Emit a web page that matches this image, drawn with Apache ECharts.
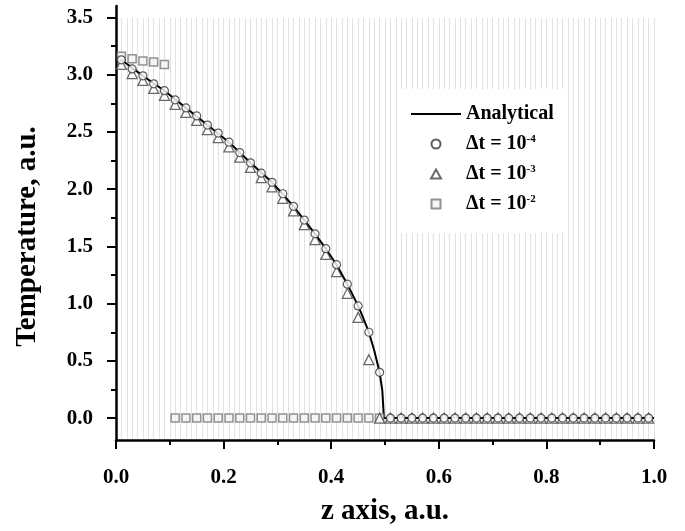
<!DOCTYPE html>
<html>
<head>
<meta charset="utf-8">
<script src="https://cdn.jsdelivr.net/npm/echarts@6/dist/echarts.min.js"></script>
<style>html,body{margin:0;padding:0;background:#fff}#c{width:685px;height:531px}</style>
</head>
<body>
<div id="c"></div>
<script>
// ---- data ----
const zMarkers = [0.01,0.03,0.05,0.07,0.09,0.11,0.13,0.15,0.17,0.19,0.21,0.23,0.25,0.27,0.29,0.31,0.33,0.35,0.37,0.39,0.41,0.43,0.45,0.47,0.49,
                  0.51,0.53,0.55,0.57,0.59,0.61,0.63,0.65,0.67,0.69,0.71,0.73,0.75,0.77,0.79,0.81,0.83,0.85,0.87,0.89,0.91,0.93,0.95,0.97,0.99];
const tDt4 = [3.13,3.05,2.99,2.92,2.86,2.78,2.71,2.64,2.56,2.49,2.41,2.32,2.23,2.14,2.06,1.96,1.85,1.73,1.61,1.48,1.34,1.17,0.98,0.75,0.40,
              0,0,0,0,0,0,0,0,0,0,0,0,0,0,0,0,0,0,0,0,0,0,0,0,0];
const tDt3 = [3.09,3.01,2.95,2.88,2.82,2.74,2.67,2.60,2.52,2.45,2.37,2.28,2.19,2.10,2.02,1.92,1.81,1.69,1.56,1.43,1.28,1.09,0.88,0.51,0,
              0,0,0,0,0,0,0,0,0,0,0,0,0,0,0,0,0,0,0,0,0,0,0,0,0];
const zDt2 = [0.01,0.03,0.05,0.07,0.09,0.11,0.13,0.15,0.17,0.19,0.21,0.23,0.25,0.27,0.29,0.31,0.33,0.35,0.37,0.39,0.41,0.43,0.45,0.47,0.49];
const tDt2 = [3.16,3.14,3.12,3.11,3.09,0,0,0,0,0,0,0,0,0,0,0,0,0,0,0,0,0,0,0,0];
const zLine = [0,0.01,0.05,0.09,0.13,0.17,0.21,0.25,0.29,0.33,0.37,0.39,0.41,0.43,0.45,0.46,0.47,0.48,0.49,0.495,0.498,1.0];
const tLine = [3.15,3.13,2.99,2.86,2.71,2.56,2.41,2.23,2.06,1.85,1.61,1.48,1.34,1.17,0.98,0.87,0.75,0.59,0.40,0.24,0,0];
const yMajorTicks = [0,0.5,1.0,1.5,2.0,2.5,3.0,3.5];
const yMinorTicks = [0.25,0.75,1.25,1.75,2.25,2.75,3.25];
const seriesNames = ['Analytical','Δt = 10^-4','Δt = 10^-3','Δt = 10^-2'];

const pair = (xs, ys) => xs.map((x, i) => [x, ys[i]]);
const FONT = '"Liberation Serif","Times New Roman",serif';

const chart = echarts.init(document.getElementById('c'), null, {renderer: 'canvas'});
chart.setOption({
  animation: false,
  backgroundColor: '#fff',
  grid: [
    {left: 116, right: 31, top: 6, bottom: 90},   // data grid
    {left: 116, right: 31, top: 18, bottom: 92},  // background stripes
    {left: 116, right: 31, top: 6, bottom: 80}    // frame for the bottom axis (line placed on helper zero)
  ],
  legend: {
    orient: 'vertical',
    left: 400, top: 89,
    padding: [15, 10, 19, 10],
    backgroundColor: '#fff',
    itemWidth: 50, itemHeight: 9, itemGap: 10,
    symbolKeepAspect: true,
    data: [
      {name: seriesNames[0], itemStyle: {opacity: 0}},
      {name: seriesNames[1], icon: 'circle'},
      {name: seriesNames[2], icon: 'path://M5,0 L10,9 L0,9 Z'},
      {name: seriesNames[3], icon: 'path://M0,0 L9,0 L9,9 L0,9 Z'}
    ],
    formatter: n => n.indexOf('^') >= 0 ? '{b|' + n.split('^')[0] + '}{s|' + n.split('^')[1] + '}' : '{b|' + n + '}',
    textStyle: {
      rich: {
        b: {fontFamily: FONT, fontWeight: 'bold', fontSize: 20, color: '#000'},
        s: {fontFamily: FONT, fontWeight: 'bold', fontSize: 11, color: '#000', verticalAlign: 'top'}
      }
    }
  },
  xAxis: [
    {
      gridIndex: 0, type: 'value', min: 0, max: 1, interval: 0.2,
      axisLine: {show: false, onZero: false}, axisTick: {show: false},
      axisLabel: {show: false}, splitLine: {show: false}
    },
    {
      gridIndex: 1, type: 'value', min: 0, max: 1, interval: 0.01,
      axisLine: {show: false, onZero: false}, axisTick: {show: false}, axisLabel: {show: false},
      splitLine: {show: true, lineStyle: {color: '#e2e2e2', width: 1}}
    },
    {
      gridIndex: 2, type: 'value', min: 0, max: 1, interval: 0.2, position: 'bottom',
      axisLine: {show: true, onZero: true, lineStyle: {color: '#000', width: 2.5}},
      axisTick: {show: true, length: 9, lineStyle: {color: '#000', width: 2}},
      minorTick: {show: true, splitNumber: 2, length: 5, lineStyle: {color: '#000', width: 2}},
      splitLine: {show: false},
      axisLabel: {margin: 17, fontFamily: FONT, fontWeight: 'bold', fontSize: 21, color: '#000', formatter: v => v.toFixed(1)},
      name: 'z axis, a.u.', nameLocation: 'middle', nameGap: 47,
      nameTextStyle: {fontFamily: FONT, fontWeight: 'bold', fontSize: 29, color: '#000'}
    }
  ],
  yAxis: [
    {
      gridIndex: 0, type: 'value', min: -0.2, max: 3.6, position: 'left',
      axisLine: {show: true, onZero: false, lineStyle: {color: '#000', width: 2.5}},
      axisTick: {show: true, customValues: yMajorTicks, length: 9, lineStyle: {color: '#000', width: 2}},
      axisLabel: {customValues: yMajorTicks, margin: 23, fontFamily: FONT, fontWeight: 'bold', fontSize: 21, color: '#000', formatter: v => v.toFixed(1)},
      splitLine: {show: false},
      name: 'Temperature, a.u.', nameLocation: 'middle', nameGap: 74, nameRotate: 90,
      nameTextStyle: {fontFamily: FONT, fontWeight: 'bold', fontSize: 29, color: '#000', padding: [0, 26, 0, 0]}
    },
    {
      gridIndex: 0, type: 'value', min: -0.2, max: 3.6, position: 'left',
      axisLine: {show: false, onZero: false},
      axisTick: {show: true, customValues: yMinorTicks, length: 5, lineStyle: {color: '#000', width: 2}},
      axisLabel: {show: false}, splitLine: {show: false}
    },
    {gridIndex: 1, type: 'value', min: 0, max: 1, show: false},
    {
      // helper axis (1 unit per pixel): its zero lies on the plot's bottom edge
      gridIndex: 2, type: 'value', min: -10, max: 435, position: 'left',
      axisLine: {show: false, onZero: false}, axisTick: {show: false},
      axisLabel: {show: false}, splitLine: {show: false}
    }
  ],
  series: [
    {
      name: seriesNames[0], type: 'line', xAxisIndex: 0, yAxisIndex: 0,
      data: pair(zLine, tLine), symbol: 'none', z: 2,
      lineStyle: {color: '#000', width: 2}, itemStyle: {color: '#000'}
    },
    {
      name: seriesNames[3], type: 'scatter', xAxisIndex: 0, yAxisIndex: 0,
      data: pair(zDt2, tDt2), symbol: 'rect', symbolSize: 8, z: 3,
      itemStyle: {color: '#f4f4f4', borderColor: '#777', borderWidth: 1.5}
    },
    {
      name: seriesNames[2], type: 'scatter', xAxisIndex: 0, yAxisIndex: 0,
      data: pair(zMarkers, tDt3), symbol: 'triangle', symbolSize: 10, z: 4,
      itemStyle: {color: '#fff', borderColor: '#444', borderWidth: 1.3}
    },
    {
      name: seriesNames[1], type: 'scatter', xAxisIndex: 0, yAxisIndex: 0,
      data: pair(zMarkers, tDt4), symbol: 'circle', symbolSize: 8, z: 5,
      itemStyle: {color: '#fff', borderColor: '#333', borderWidth: 1.2}
    }
  ]
});
</script>
</body>
</html>
